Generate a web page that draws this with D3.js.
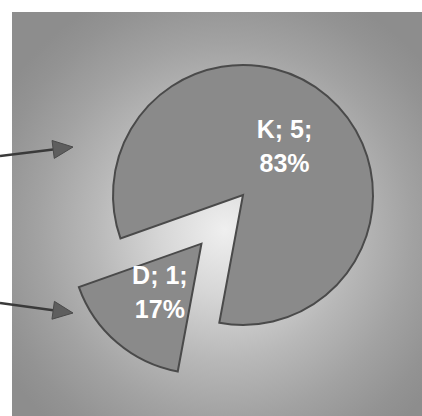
<!DOCTYPE html>
<html>
<head>
<meta charset="utf-8">
<script src="https://cdn.jsdelivr.net/npm/d3@7"></script>
<style>
  html, body { margin: 0; padding: 0; background: #fff; }
  svg { display: block; }
</style>
</head>
<body>
<svg id="chart" width="422" height="416"></svg>
<script>
// ---- data ----
const categories = ["K", "D"];
const values = [5, 1];
const percents = ["83%", "17%"];
const exploded = [false, true];

// ---- layout ----
const W = 422, H = 416;
const panel = { x: 12, y: 12 };
const cx = 243, cy = 195, R = 130;
const explodeDist = 64;
const startDeg = 250.5;

const svg = d3.select("#chart");
const defs = svg.append("defs");
const grad = defs.append("radialGradient")
  .attr("id", "bg").attr("gradientUnits", "userSpaceOnUse")
  .attr("cx", 225).attr("cy", 230).attr("r", 260);
[[0, "#efefef"], [0.25, "#d6d6d6"], [0.5, "#b8b8b8"], [0.72, "#a2a2a2"], [0.9, "#939393"], [1, "#8d8d8d"]]
  .forEach(([o, c]) => grad.append("stop").attr("offset", o).attr("stop-color", c));

svg.append("rect")
  .attr("x", panel.x).attr("y", panel.y)
  .attr("width", W - panel.x).attr("height", H - panel.y)
  .attr("fill", "url(#bg)");

const pie = d3.pie().sort(null)
  .startAngle(startDeg * Math.PI / 180)
  .endAngle((startDeg + 360) * Math.PI / 180);
const arcs = pie(values);
const arc = d3.arc().innerRadius(0).outerRadius(R);
const labelArc = d3.arc().innerRadius(64).outerRadius(64);

const g = svg.append("g").attr("transform", `translate(${cx},${cy})`);
const slices = g.selectAll("g.slice").data(arcs).join("g")
  .attr("class", "slice")
  .attr("transform", (d, i) => {
    if (!exploded[i]) return null;
    const a = (d.startAngle + d.endAngle) / 2;
    return `translate(${explodeDist * Math.sin(a)},${-explodeDist * Math.cos(a)})`;
  });

slices.append("path")
  .attr("d", arc)
  .attr("fill", "#8a8a8a")
  .attr("stroke", "#4a4a4a")
  .attr("stroke-width", 2)
  .attr("stroke-linejoin", "miter");

slices.each(function (d, i) {
  const [lx, ly] = labelArc.centroid(d);
  const t = d3.select(this).append("text")
    .attr("text-anchor", "middle")
    .attr("fill", "#ffffff")
    .attr("font-family", "Liberation Sans, Arial, sans-serif")
    .attr("font-weight", "bold")
    .attr("font-size", 25);
  t.append("tspan").attr("x", lx).attr("y", ly - 8)
    .text(`${categories[i]}; ${values[i]};`);
  t.append("tspan").attr("x", lx).attr("y", ly + 26)
    .text(percents[i]);
});

// ---- annotation arrows ----
const arrows = [
  { x1: 0, y1: 156, x2: 73, y2: 147 },
  { x1: 0, y1: 303, x2: 73, y2: 313 }
];
arrows.forEach(a => {
  const ang = Math.atan2(a.y2 - a.y1, a.x2 - a.x1);
  const L = 20, hw = 9;
  const bx = a.x2 - L * Math.cos(ang), by = a.y2 - L * Math.sin(ang);
  svg.append("line")
    .attr("x1", a.x1).attr("y1", a.y1).attr("x2", bx).attr("y2", by)
    .attr("stroke", "#3a3a3a").attr("stroke-width", 2.5);
  const px = -Math.sin(ang) * hw, py = Math.cos(ang) * hw;
  svg.append("path")
    .attr("d", `M${a.x2},${a.y2}L${bx + px},${by + py}L${bx - px},${by - py}Z`)
    .attr("fill", "#5e5e5e").attr("stroke", "#4a4a4a").attr("stroke-width", 1);
});
</script>
</body>
</html>
